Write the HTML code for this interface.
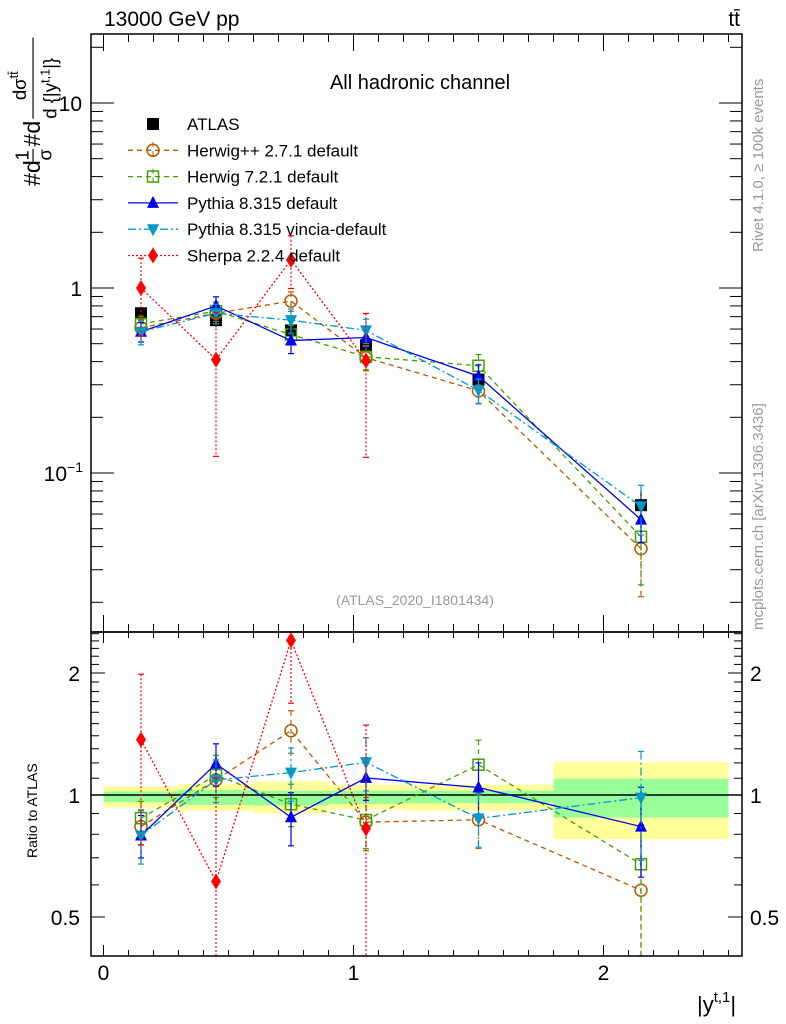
<!DOCTYPE html>
<html><head><meta charset="utf-8"><style>
html,body{margin:0;padding:0;background:#fff;}
svg{display:block;font-family:"Liberation Sans",sans-serif;}
</style></head><body>
<svg id="chart" width="786" height="1024" viewBox="0 0 786 1024" xmlns="http://www.w3.org/2000/svg">
<g id="bands"></g><g id="series"></g><g id="axes"></g>
<text x="104" y="26" font-size="21">13000 GeV pp</text>
<text x="740" y="26" font-size="21" text-anchor="end">tt̄</text>
<text x="420" y="89" font-size="20" text-anchor="middle">All hadronic channel</text>
<text x="415" y="605" font-size="14" fill="#999" text-anchor="middle">(ATLAS_2020_I1801434)</text>
<text transform="translate(763,252) rotate(-90)" font-size="15" fill="#999">Rivet 4.1.0, ≥ 100k events</text>
<text transform="translate(763,630) rotate(-90)" font-size="15" fill="#999">mcplots.cern.ch [arXiv:1306.3436]</text>
<g transform="translate(40,186) rotate(-90) scale(1.16)" font-size="20">
<text x="0" y="0">#d</text><text x="22" y="-10" font-size="16">1</text><line x1="21" y1="-6" x2="32" y2="-6" stroke="#000"/><text x="22" y="10" font-size="16">σ</text>
<text x="34" y="0">#d</text><line x1="58" y1="-6" x2="128" y2="-6" stroke="#000"/><text x="74" y="-12" font-size="16">dσ<tspan font-size="11" dy="-7">tt̄</tspan></text><text x="58" y="14" font-size="16">d {|y<tspan font-size="11" dy="-6">t,1</tspan><tspan dy="6">|}</tspan></text>
</g>
<text transform="translate(37,858) rotate(-90)" font-size="14">Ratio to ATLAS</text>
<text x="697" y="1012" font-size="22">|y<tspan font-size="15" dy="-10">t,1</tspan><tspan dy="10">|</tspan></text>
<g id="legend"></g>
</svg>
<script>
const binLo = [0, 0.3, 0.6, 0.9, 1.2, 1.8];
const binHi = [0.3, 0.6, 0.9, 1.2, 1.8, 2.5];
const xCenters = [0.15, 0.45, 0.75, 1.05, 1.5, 2.15];
const dataVals = [0.73, 0.67, 0.59, 0.49, 0.32, 0.067];
const dataTotUp = [1.050, 1.064, 1.080, 1.060, 1.060, 1.205];
const dataTotDn = [0.931, 0.915, 0.901, 0.922, 0.915, 0.778];
const dataStatUp = [1.020, 1.030, 1.024, 1.024, 1.024, 1.097];
const dataStatDn = [0.960, 0.945, 0.942, 0.951, 0.955, 0.880];
const herwigppVals = [0.61, 0.73, 0.85, 0.42, 0.278, 0.039];
const herwigppErr = [0.10, 0.12, 0.12, 0.15, 0.15, 0.45];
const herwig7Vals = [0.64, 0.75, 0.56, 0.425, 0.38, 0.0452];
const herwig7Err = [0.10, 0.12, 0.12, 0.15, 0.15, 0.45];
const pythiaVals = [0.58, 0.80, 0.52, 0.54, 0.334, 0.056];
const pythiaErr = [0.12, 0.12, 0.15, 0.12, 0.15, 0.25];
const vinciaVals = [0.58, 0.73, 0.67, 0.59, 0.28, 0.066];
const vinciaErr = [0.15, 0.12, 0.15, 0.15, 0.15, 0.30];
const sherpaX = [0.15, 0.45, 0.75, 1.05];
const sherpaVals = [1.0, 0.41, 1.42, 0.405];
const sherpaErrUp = [0.45, 0.8, 0.35, 0.8];
const sherpaErrDn = [0.45, 0.7, 0.3, 0.7];
const topTicks = [0.1, 1, 10];
const ratioTicks = [0.5, 1, 2];
const xTicks = [0, 1, 2];

const L=91,R=742,T=34,M=632,B=956;
const X=v=>103.5+250*v;
const YT=v=>288-185*Math.log10(v);
const YR=r=>795-405.3*Math.log10(r);
const NS='http://www.w3.org/2000/svg';
function mk(tag,attrs,parent){const e=document.createElementNS(NS,tag);for(const k in attrs)e.setAttribute(k,attrs[k]);parent.appendChild(e);return e;}
const bands=document.getElementById('bands'),ser=document.getElementById('series'),ax=document.getElementById('axes'),leg=document.getElementById('legend');

for(let i=0;i<binLo.length;i++){
 let b=mk('rect',{x:X(binLo[i]),y:YR(dataTotUp[i]),width:X(binHi[i])-X(binLo[i]),height:YR(dataTotDn[i])-YR(dataTotUp[i]),fill:'#ffff99'},bands);
 
 
 let g=mk('rect',{x:X(binLo[i]),y:YR(dataStatUp[i]),width:X(binHi[i])-X(binLo[i]),height:YR(dataStatDn[i])-YR(dataStatUp[i]),fill:'#99ff99'},bands);
 
 
}
let one=mk('line',{x1:L,x2:R,y1:YR(1),y2:YR(1),stroke:'#000','stroke-width':1.5},bands);



function clipY(y,top,bot){return Math.max(top,Math.min(bot,y));}
function marker(kind,x,y,color,parent){
 const s=6;
 if(kind==='sq') return mk('rect',{x:x-s,y:y-s,width:2*s,height:2*s,fill:'#000'},parent);
 if(kind==='circ') return mk('circle',{cx:x,cy:y,r:s,fill:'none',stroke:color,'stroke-width':1.5},parent);
 if(kind==='osq') return mk('rect',{x:x-s+0.5,y:y-s+0.5,width:2*s-1,height:2*s-1,fill:'none',stroke:color,'stroke-width':1.5},parent);
 if(kind==='tri') return mk('polygon',{points:`${x},${y-7} ${x-6},${y+5} ${x+6},${y+5}`,fill:color},parent);
 if(kind==='itri') return mk('polygon',{points:`${x},${y+7} ${x-6},${y-5} ${x+6},${y-5}`,fill:color},parent);
 if(kind==='dia') return mk('polygon',{points:`${x},${y-8} ${x-5},${y} ${x},${y+8} ${x+5},${y}`,fill:color},parent);
}
const styles={
 herwigpp:{color:'#b35a00',dash:'5,4',mk:'circ',name:'Herwig++ 2.7.1 default'},
 herwig7:{color:'#44a000',dash:'5,4',mk:'osq',name:'Herwig 7.2.1 default'},
 pythia:{color:'#0000ee',dash:'',mk:'tri',name:'Pythia 8.315 default'},
 vincia:{color:'#0099cc',dash:'8,3,2,3',mk:'itri',name:'Pythia 8.315 vincia-default'},
 sherpa:{color:'#ff0000',dash:'2,2',mk:'dia',name:'Sherpa 2.2.4 default'}
};
function drawSeries(key,xs,vals,up,dn){
 const st=styles[key];
 const g=mk('g',{},ser);
 
 
 [['top',T,M],['ratio',M,B]].forEach(([pan,t,b])=>{
  const yf=i=>pan==='top'?YT(vals[i]):YR(vals[i]/dataVals[xCenters.indexOf(xs[i])]);
  const yv=(i,f)=>pan==='top'?YT(vals[i]*f):YR(vals[i]*f/dataVals[xCenters.indexOf(xs[i])]);
  let pts=xs.map((x,i)=>X(x)+','+yf(i)).join(' ');
  const pl=mk('polyline',{points:pts,fill:'none',stroke:st.color,'stroke-width':1.3,'stroke-dasharray':st.dash},g);
  
  
  xs.forEach((x,i)=>{
   const y1=clipY(yv(i,1+up[i]),t,b), y2=clipY(yv(i,Math.max(0.01,1-dn[i])),t,b);
   mk('line',{x1:X(x),x2:X(x),y1:y1,y2:y2,stroke:st.color,'stroke-width':1.2,'stroke-dasharray':st.dash},g);
   mk('line',{x1:X(x)-3,x2:X(x)+3,y1:y1,y2:y1,stroke:st.color,'stroke-width':1.2},g);
   mk('line',{x1:X(x)-3,x2:X(x)+3,y1:y2,y2:y2,stroke:st.color,'stroke-width':1.2},g);
   const yy=yf(i);
   if(yy>t&&yy<b){const m=marker(st.mk,X(x),yy,st.color,g);
    
    }
  });
 });
}
const dg=mk('g',{},ser);


xCenters.forEach((x,i)=>{
 mk('line',{x1:X(x),x2:X(x),y1:YT(dataVals[i]*dataTotUp[i]),y2:YT(dataVals[i]*dataTotDn[i]),stroke:'#000','stroke-width':1.2},dg);
 const m=marker('sq',X(x),YT(dataVals[i]),'#000',dg);
 
 
});
drawSeries('herwigpp',xCenters,herwigppVals,herwigppErr,herwigppErr);
drawSeries('herwig7',xCenters,herwig7Vals,herwig7Err,herwig7Err);
drawSeries('pythia',xCenters,pythiaVals,pythiaErr,pythiaErr);
drawSeries('vincia',xCenters,vinciaVals,vinciaErr,vinciaErr);
drawSeries('sherpa',sherpaX,sherpaVals,sherpaErrUp,sherpaErrDn);

[[T,M],[M,B]].forEach(([t,b],pi)=>{
 const f=mk('rect',{x:L,y:t,width:R-L,height:b-t,fill:'none',stroke:'#000','stroke-width':1.5},ax);
 
 
 for(let v=0;v<=2.5001;v+=0.1){
  const x=X(v),maj=Math.abs(v-Math.round(v))<1e-6;const len=maj?(pi?11:17):(pi?6:8);
  mk('line',{x1:x,x2:x,y1:t,y2:t+len,stroke:'#000'},ax);
  mk('line',{x1:x,x2:x,y1:b,y2:b-len,stroke:'#000'},ax);
 }
});
for(let d=-2;d<=1;d++)for(let k=1;k<=9;k++){
 const v=k*Math.pow(10,d),y=YT(v);if(y<T||y>M)continue;
 const len=k===1?23:12;
 mk('line',{x1:L,x2:L+len,y1:y,y2:y,stroke:'#000'},ax);
 mk('line',{x1:R,x2:R-len,y1:y,y2:y,stroke:'#000'},ax);
}
topTicks.forEach(v=>{
 const t=mk('text',{x:82,y:YT(v)+8,'font-size':21,'text-anchor':'end'},ax);
 if(v===0.1){t.innerHTML='10<tspan font-size="14" dy="-9">−1</tspan>';t.setAttribute('x',83);}
 else t.textContent=String(v);
 
 
});
for(let v=0.4;v<=2.55;v+=0.1){
 const y=YR(v);if(y<M||y>B)continue;
 const maj=ratioTicks.some(r=>Math.abs(r-v)<1e-6);const len=maj?14:8;
 mk('line',{x1:L,x2:L+len,y1:y,y2:y,stroke:'#000'},ax);
 mk('line',{x1:R,x2:R-len,y1:y,y2:y,stroke:'#000'},ax);
}
ratioTicks.forEach(v=>{
 const t=mk('text',{x:80,y:YR(v)+8,'font-size':21,'text-anchor':'end'},ax);
 t.textContent=String(v);
 
 
 const t2=mk('text',{x:750,y:YR(v)+8,'font-size':21},ax);
 t2.textContent=String(v);
 
 
});
xTicks.forEach(v=>{
 const t=mk('text',{x:X(v),y:980,'font-size':21,'text-anchor':'middle'},ax);
 t.textContent=String(v);
 
 
});
const legRows=[['ATLAS'],['herwigpp'],['herwig7'],['pythia'],['vincia'],['sherpa']];
legRows.forEach((r,i)=>{
 const y=124+i*26.3;
 const g=mk('g',{},leg);
 
 
 if(i===0){marker('sq',153,y,'#000',g);}
 else{const st=styles[r[0]];
  mk('line',{x1:128,x2:178,y1:y,y2:y,stroke:st.color,'stroke-width':1.3,'stroke-dasharray':st.dash},g);
  if(r[0]==='sherpa'||r[0]==='herwigpp'||r[0]==='herwig7'){mk('line',{x1:153,x2:153,y1:y-8,y2:y+8,stroke:st.color,'stroke-dasharray':st.dash},g);}
  marker(st.mk,153,y,st.color,g);}
 const t=mk('text',{x:187,y:y+6,'font-size':17},g);
 t.textContent=i===0?'ATLAS':styles[r[0]].name;
});
</script>
</body></html>
